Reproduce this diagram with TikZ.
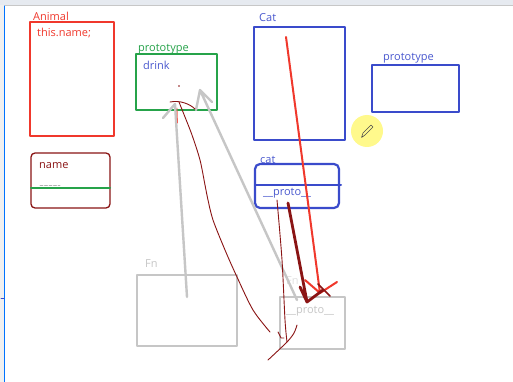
\documentclass[tikz,border=0pt]{standalone}
\usepackage{fontspec}
\setmainfont{Open Sans}
\usepackage{xcolor}
\usepackage{tikz}
\usetikzlibrary{positioning}
\definecolor{wbred}{HTML}{F0382C}
\definecolor{wbdark}{HTML}{8A1414}
\definecolor{wbgreen}{HTML}{26A34A}
\definecolor{wbblue}{HTML}{3A4BCB}
\definecolor{wbtext}{HTML}{4A59CF}
\definecolor{wbgray}{HTML}{C6C6C6}
\definecolor{wbbar}{HTML}{E6EAF0}

\begin{document}
\begin{tikzpicture}[x=1pt,y=-1pt,font=\fontsize{11}{13}\selectfont,line cap=round,line join=round,
        box/.style={draw,line width=1.8pt,inner sep=0pt,outer sep=0pt,anchor=north west},
        redbox/.style={box,draw=wbred},grnbox/.style={box,draw=wbgreen},bluebox/.style={box,draw=wbblue,line width=2.2pt},
        graybox/.style={box,draw=wbgray,line width=2.2pt},
        txt/.style={anchor=base west,inner sep=0pt},
        grayarr/.style={draw=wbgray,line width=2.4pt},
        redarr/.style={draw=wbred,line width=2pt},
        darkarr/.style={draw=wbdark,line width=2.8pt},
        scrib/.style={draw=wbdark,line width=0.9pt}]
        \useasboundingbox (0,0) rectangle (513,382);
        \fill[white] (0,0) rectangle (513,382);
        \fill[wbbar] (0,0) rectangle (513,5);
        \draw[color=black!22,line width=1.2pt] (5,5.5) -- (513,5.5);
        \fill[black!6] (0,5) rectangle (4,382);
        \draw[color=blue!55!cyan,line width=1pt] (4.5,6) -- (4.5,382);
        \draw[color=wbblue,line width=0.8pt] (1,298) -- (4,298);
        % boxes
        \node[redbox,minimum width=84pt,minimum height=114pt] (animal) at (30,22) {};
        \node[box,draw=wbdark,line width=1.3pt,rounded corners=4pt,minimum width=79pt,minimum height=55pt] (namebox) at (31,153) {};
        \node[grnbox,minimum width=81pt,minimum height=56pt] (animalproto) at (136,54) {};
        \node[bluebox,minimum width=91pt,minimum height=113pt] (cat) at (254,27) {};
        \node[bluebox,minimum width=87pt,minimum height=47pt] (catproto) at (372,65) {};
        \node[bluebox,rounded corners=5pt,minimum width=84pt,minimum height=44pt] (catobj) at (255,164) {};
        \node[graybox,minimum width=100pt,minimum height=71pt] (fn) at (137,275) {};
        \node[graybox,minimum width=65pt,minimum height=52pt] (fnproto) at (280,297) {};
        \draw[wbgreen,line width=2pt] (namebox.west |- 0,188) -- (namebox.east |- 0,188);
        \draw[wbblue,line width=2pt] (255,185) -- (341,185);
        \draw[black!30,line width=0.7pt,dash pattern=on 3pt off 1.5pt] (40,185) -- (60,185);
        % labels
        \node[txt,wbred] (animallbl) at (33,20.5) {Animal};
        \node[txt,wbred] (thisname) at (37,37) {this.name;};
        \node[txt,wbdark] (namelbl) at (39,168) {name};
        \node[txt,wbgreen] (protolbl) at (138,51.5) {prototype};
        \node[txt,wbtext] (drink) at (143,70) {drink};
        \node[txt,wbtext] (catlbl) at (259,22) {Cat};
        \node[txt,wbtext] (catprotolbl) at (383,60.5) {prototype};
        \node[txt,wbtext] (catobjlbl) at (260,163) {cat};
        \node[txt,wbtext] (catobjproto) at (263,195.5) {\_\_proto\_\_};
        \node[txt,wbgray] (fnlbl) at (145,267.5) {Fn};
        \node[txt,black!12] (fnlbl2) at (286,284) {Fn};
        \node[txt,wbgray] (fnprotolbl) at (286,313.5) {\_\_proto\_\_};
        % cursor
        \fill[yellow!45!white] (367,131) circle (16pt);
        \draw[black!70,line width=0.6pt] (361.5,137.5) -- (363,133) -- (371,125) -- (373,127) -- (365,135) -- cycle;
        % free ends
        \coordinate (fnin) at (187,297);
        \coordinate (tipa) at (175,104);
        \coordinate (fnprotoin) at (297,300);
        \coordinate (tipb) at (200,90);
        \coordinate (catin) at (286,37);
        \coordinate (tipc) at (320,293);
        \coordinate (objin) at (288,203);
        \coordinate (tipd) at (307,302);
        % gray pointers
        \draw[grayarr] (fnin) -- (tipa) -- (163,118);
        \draw[grayarr] (fnprotoin) -- (tipb) -- (196,110) (tipb) -- (212,102);
        % drawn pointers
        \draw[redarr] (catin) -- (tipc) (305,280) -- (tipc) -- (337,282);
        \draw[darkarr] (objin) -- (tipd) (300,287) -- (tipd) -- (323,290);
        \draw[wbdark,line width=1.6pt] (318,284) -- (330,296);
        % scribbles
        \fill[wbdark] (179,86) circle (0.9pt);
        \draw[scrib] (170,102) .. controls (180,100) and (190,104) .. (195,109);
        \draw[wbred!80,line width=0.8pt] (177,108) -- (177.5,123);
        \draw[scrib] plot[smooth] coordinates {(179,102) (183,112) (192,135) (200,160) (205,185) (208,200) (213,220) (225,250) (237,277) (253,310) (270,332)};
        \draw[scrib] plot[smooth] coordinates {(277,200) (282,260) (285,320) (287,342)};
        \draw[scrib] (278,332) -- (281,338) -- (284,338);
        \draw[scrib] plot[smooth] coordinates {(297,325) (294,333) (287,342) (268,360)};
      \end{tikzpicture}
\end{document}
